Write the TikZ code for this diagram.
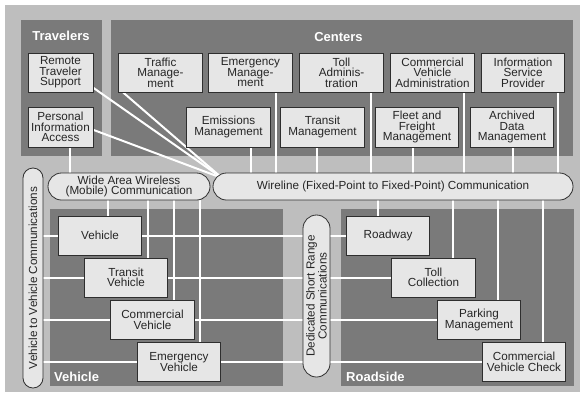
\documentclass[tikz,border=0pt]{standalone}
\usepackage{fontspec}
\setmainfont{Liberation Sans}
\definecolor{outergray}{HTML}{BEBEBE}
\definecolor{panelgray}{HTML}{7A7A7A}
\definecolor{boxgray}{HTML}{E6E6E6}
\definecolor{edgegray}{HTML}{2E2E2E}
\pgfdeclarelayer{back}
\pgfdeclarelayer{wires}
\pgfsetlayers{back,wires,main}
\begin{document}
\begin{tikzpicture}[x=1pt,y=-1pt,
	unit/.style={draw=edgegray,line width=0.8pt,fill=boxgray,minimum width=83.5pt,minimum height=39pt,inner sep=0pt,align=center,text=black!85,font=\fontsize{11.7}{10.5}\selectfont},
	smallunit/.style={unit,minimum width=65pt},
	pill/.style={draw=edgegray,line width=0.8pt,fill=boxgray,inner sep=0pt,align=center,rounded corners=13.5pt,text=black!85,font=\fontsize{11.7}{10.5}\selectfont},
	region/.style={inner sep=0pt,text=white,font=\bfseries\fontsize{13}{13}\selectfont},
	link/.style={white,line width=2pt}]
		\useasboundingbox (0,0) rectangle (583,397);
		\begin{pgfonlayer}{back}
		\fill[white] (0,0) rectangle (583,397);
		\fill[outergray] (5,5) rectangle (580,392);
		\fill[panelgray] (21,20) rectangle (102,156);
		\fill[panelgray] (111,20) rectangle (573,156);
		\fill[panelgray] (50,209) rectangle (283,386);
		\fill[panelgray] (341,209) rectangle (574,386);
		\end{pgfonlayer}
		
		\node[region] at (61,36) (trav) {Travelers};
		\node[region] at (338.5,37) (cent) {Centers};
		\node[region,anchor=west] at (54,377) (vehl) {Vehicle};
		\node[region,anchor=west] at (346,377) (road) {Roadside};
		
		\node[smallunit] at (60.5,72.5) (rts) {Remote\\Traveler\\Support};
		\node[smallunit,minimum height=40pt] at (60.5,127) (pia) {Personal\\Information\\Access};
		
		\node[unit] at (160.5,72.5) (tm) {Traffic\\Manage-\\ment};
		\node[unit] at (250.5,72.5) (em) {Emergency\\Manage-\\ment};
		\node[unit] at (341.5,72.5) (ta) {Toll\\Adminis-\\tration};
		\node[unit] at (432.5,72.5) (cva) {Commercial\\Vehicle\\Administration};
		\node[unit] at (523,72.5) (isp) {Information\\Service\\Provider};
		\node[unit,minimum height=40pt] at (228.5,127) (emi) {Emissions\\Management};
		\node[unit,minimum height=40pt] at (322.5,127) (tmg) {Transit\\Management};
		\node[unit,minimum height=40pt] at (417,127) (ffm) {Fleet and\\Freight\\Management};
		\node[unit,minimum height=40pt] at (512,127) (adm) {Archived\\Data\\Management};
		
		\node[pill,minimum width=162pt,minimum height=27pt] at (129,186.5) (wide) {Wide Area Wireless\\(Mobile) Communication};
		\node[pill,minimum width=360pt,minimum height=27pt] at (393,186.5) (wire) {Wireline (Fixed-Point to Fixed-Point) Communication};
		\node[pill,rotate=90,minimum width=220pt,minimum height=20pt,rounded corners=10pt] at (33,278) (v2v) {Vehicle to Vehicle Communications};
		\node[pill,rotate=90,minimum width=162pt,minimum height=27pt] at (316.5,296) (dsrc) {Dedicated Short Range\\Communications};
		
		\node[unit] at (100,235.5) (veh) {Vehicle};
		\node[unit] at (126,277.5) (tv) {Transit\\Vehicle};
		\node[unit] at (152.5,320) (cv) {Commercial\\Vehicle};
		\node[unit] at (179,362) (ev) {Emergency\\Vehicle};
		\node[unit] at (388,235.5) (rw) {Roadway};
		\node[unit] at (433.5,277.5) (tc) {Toll\\Collection};
		\node[unit] at (479,320) (pm) {Parking\\Management};
		\node[unit] at (524,362) (cvc) {Commercial\\Vehicle Check};
		
		\begin{pgfonlayer}{wires}
		\coordinate (hub) at (222,178);
		\draw[link] (rts.-25) -- (hub);
		\draw[link] (pia.-5) -- (hub);
		\draw[link] (tm.-152) -- (hub);
		\coordinate (piaout) at ([xshift=9.5pt]pia.south);
		\draw[link] (piaout) -- (piaout |- wide.center);
		
		\foreach \b/\x in {em/276,ta/371,cva/464,isp/558,emi/251,tmg/317,ffm/413,adm/513}
			\draw[link] (\b.south -| \x,0) -- (wire.center -| \x,0);
		\foreach \b/\x in {veh/107.5,tv/147.5,cv/174,ev/200}
			\draw[link] (wide.center -| \x,0) -- (\b.north -| \x,0);
		\foreach \b/\x in {rw/378,tc/453,pm/498,cvc/543}
			\draw[link] (wire.center -| \x,0) -- (\b.north -| \x,0);
		\foreach \v/\r in {veh/rw,tv/tc,cv/pm,ev/cvc} {
			\draw[link] (v2v.center |- \v) -- (\v.west);
			\draw[link] (\v.east) -- (dsrc.center |- \v);
			\draw[link] (dsrc.center |- \r) -- (\r.west);
		}
		\end{pgfonlayer}
\end{tikzpicture}
\end{document}
